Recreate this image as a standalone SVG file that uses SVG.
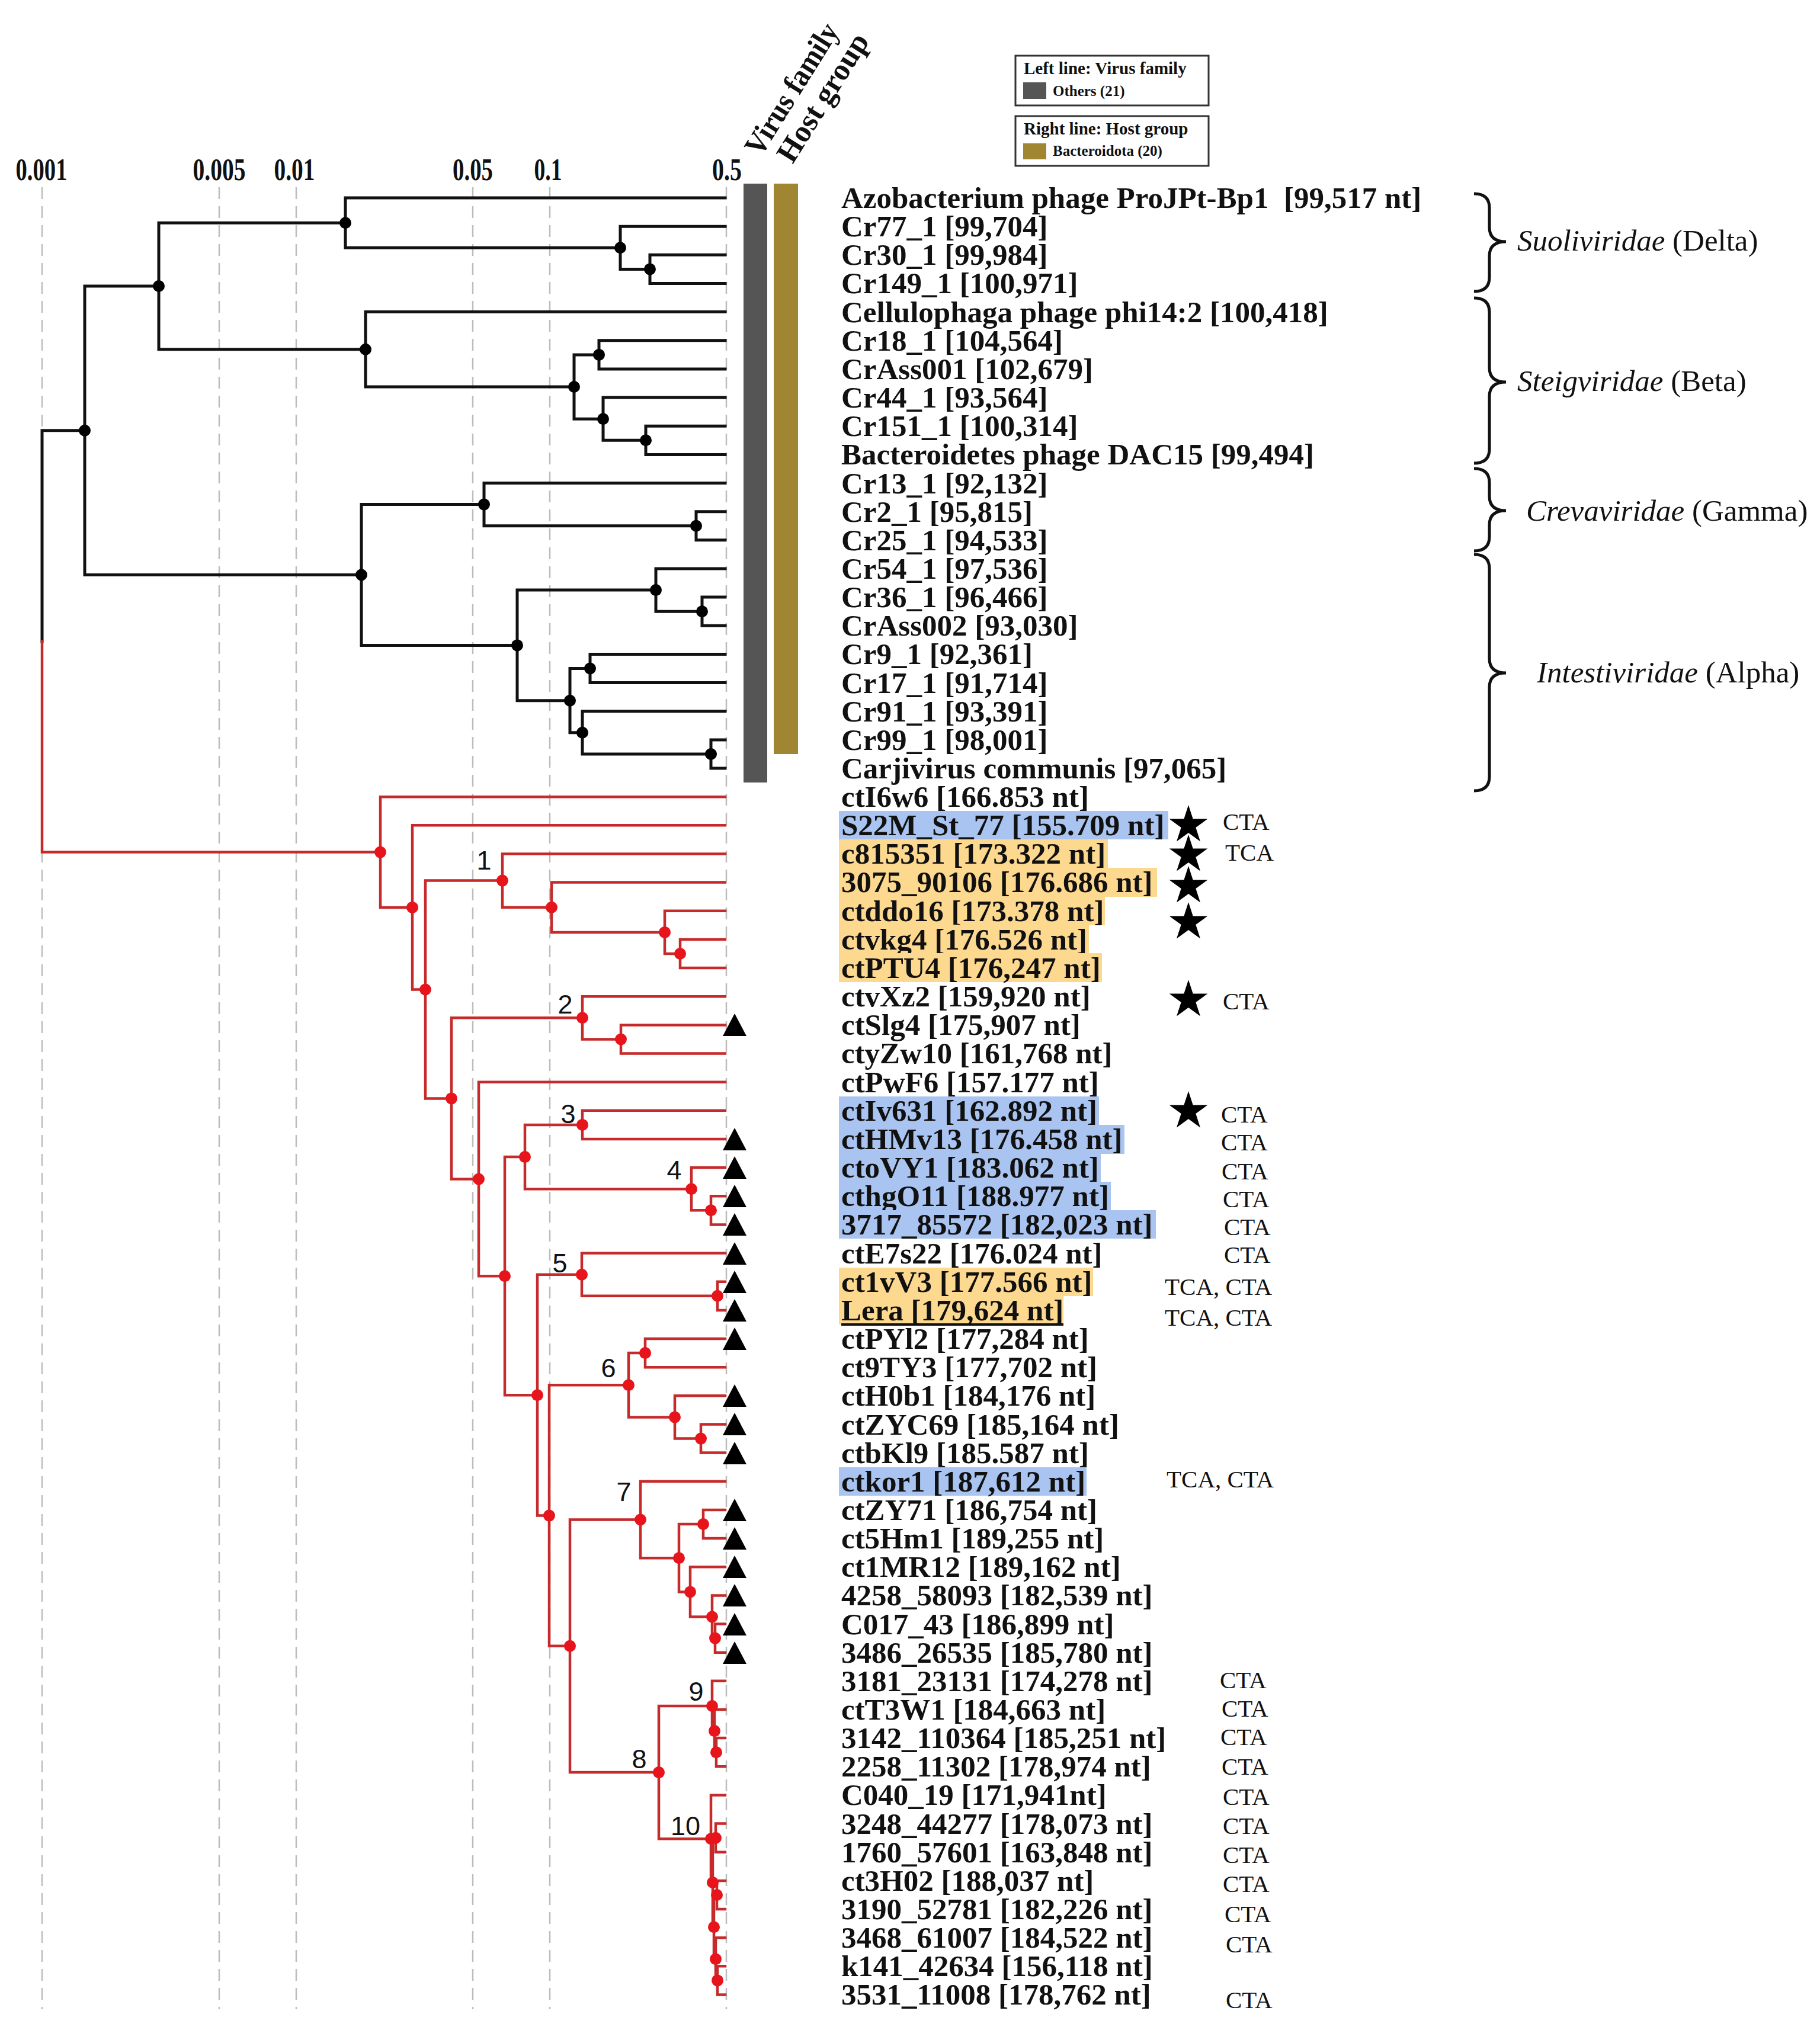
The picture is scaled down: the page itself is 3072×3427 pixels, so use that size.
<svg xmlns="http://www.w3.org/2000/svg" width="3072" height="3427" viewBox="0 0 3072 3427">
<style>
.grid{stroke:#bdbdbd;stroke-width:2.5;stroke-dasharray:20 12;fill:none}
.ax{font-family:"Liberation Serif",serif;font-weight:bold;font-size:52px;fill:#111;text-anchor:middle}
.blk{stroke:#111;stroke-width:5;fill:none;stroke-linecap:square}
.red{stroke:#c62a2a;stroke-width:4.5;fill:none;stroke-linecap:square}
.bd{fill:#000}
.rd{fill:#e8141c}
.lab{font-family:"Liberation Serif",serif;font-weight:bold;font-size:51px;fill:#111}
.ann{font-family:"Liberation Serif",serif;font-size:41px;fill:#111}
.num{font-family:"Liberation Sans",Arial,sans-serif;font-size:45px;fill:#111;text-anchor:middle}
.fam{font-family:"Liberation Serif",serif;font-size:51px;fill:#111}
.hdr{font-family:"Liberation Serif",serif;font-weight:bold;font-size:52px;fill:#111}
.lg1{font-family:"Liberation Serif",serif;font-weight:bold;font-size:29px;fill:#111}
.lg2{font-family:"Liberation Serif",serif;font-weight:bold;font-size:25px;fill:#111}
.brace{stroke:#111;stroke-width:5;fill:none}
.hb{fill:#a9c4f0}
.hy{fill:#fdd98f}
</style>
<defs>
<path id="star" d="M0,-34 L7.64,-10.52 L32.34,-10.51 L12.36,4.02 L19.98,27.51 L0,13 L-19.98,27.51 L-12.36,4.02 L-32.34,-10.51 L-7.64,-10.52 Z" fill="#000"/>
<path id="tri" d="M0,-19 L20,19 L-20,19 Z" fill="#000"/>
</defs>
<rect width="3072" height="3427" fill="#fff"/>

<g id="axis">
<line class="grid" x1="71" y1="316" x2="71" y2="3392"/>
<line class="grid" x1="370" y1="316" x2="370" y2="3392"/>
<line class="grid" x1="500" y1="316" x2="500" y2="3392"/>
<line class="grid" x1="798" y1="316" x2="798" y2="3392"/>
<line class="grid" x1="928" y1="316" x2="928" y2="3392"/>
<line class="grid" x1="1226" y1="316" x2="1226" y2="3392"/>
<text class="ax" x="70" y="304" textLength="87" lengthAdjust="spacingAndGlyphs">0.001</text>
<text class="ax" x="370" y="304" textLength="89" lengthAdjust="spacingAndGlyphs">0.005</text>
<text class="ax" x="497" y="304" textLength="69" lengthAdjust="spacingAndGlyphs">0.01</text>
<text class="ax" x="798" y="304" textLength="68" lengthAdjust="spacingAndGlyphs">0.05</text>
<text class="ax" x="925" y="304" textLength="47" lengthAdjust="spacingAndGlyphs">0.1</text>
<text class="ax" x="1227" y="304" textLength="50" lengthAdjust="spacingAndGlyphs">0.5</text>
</g>

<g id="headers">
<text class="hdr" transform="translate(1284,266) rotate(-58)" textLength="252" lengthAdjust="spacingAndGlyphs">Virus family</text>
<text class="hdr" transform="translate(1338,278) rotate(-58)" textLength="246" lengthAdjust="spacingAndGlyphs">Host group</text>
</g>

<g id="legend">
<rect x="1714" y="94" width="326" height="84" fill="#fff" stroke="#333" stroke-width="3"/>
<text class="lg1" x="1728" y="125">Left line: Virus family</text>
<rect x="1727" y="139" width="39" height="28" fill="#555"/>
<text class="lg2" x="1777" y="162">Others (21)</text>
<rect x="1714" y="196" width="326" height="84" fill="#fff" stroke="#333" stroke-width="3"/>
<text class="lg1" x="1728" y="227">Right line: Host group</text>
<rect x="1727" y="242" width="39" height="27" fill="#a08532"/>
<text class="lg2" x="1777" y="263">Bacteroidota (20)</text>
</g>

<g id="annotation-bars">
<rect id="bar-virus-family" x="1255" y="310" width="40" height="1011" fill="#555"/>
<rect id="bar-host-group" x="1306" y="310" width="41" height="963" fill="#a08532"/>
</g>

<g id="connectors">
<path class="blk" d="M143 726.8 H71 V1082.7"/>
<path class="red" d="M71 1082.7 V1438.6 H642"/>
<path class="blk" d="M268 483 H143 V970.5 H610"/>
<path class="blk" d="M583 376.2 H268 V589.8 H617"/>
<path class="blk" d="M1224 334 H583 V418.3 H1047"/>
<path class="blk" d="M1224 382.2 H1047 V454.4 H1097"/>
<path class="blk" d="M1224 430.3 H1097 V478.5 H1224"/>
<path class="blk" d="M1224 526.6 H617 V653 H969"/>
<path class="blk" d="M1011 598.9 H969 V707.2 H1018"/>
<path class="blk" d="M1224 574.8 H1011 V622.9 H1224"/>
<path class="blk" d="M1224 671.1 H1018 V743.3 H1090"/>
<path class="blk" d="M1224 719.2 H1090 V767.4 H1224"/>
<path class="blk" d="M817 851.6 H610 V1089.4 H873"/>
<path class="blk" d="M1224 815.5 H817 V887.8 H1175"/>
<path class="blk" d="M1224 863.7 H1175 V911.8 H1224"/>
<path class="blk" d="M1107 996.1 H873 V1182.7 H962"/>
<path class="blk" d="M1224 960 H1107 V1032.2 H1185"/>
<path class="blk" d="M1224 1008.1 H1185 V1056.3 H1224"/>
<path class="blk" d="M996 1128.5 H962 V1236.8 H983"/>
<path class="blk" d="M1224 1104.4 H996 V1152.6 H1224"/>
<path class="blk" d="M1224 1200.7 H983 V1273 H1200"/>
<path class="blk" d="M1224 1248.9 H1200 V1297 H1224"/>

<path class="red" d="M1224 1345.2 H642 V1531.9 H696"/>
<path class="red" d="M1224 1393.3 H696 V1670.5 H718"/>
<path class="red" d="M848 1486.6 H718 V1854.4 H762"/>
<path class="red" d="M1224 1441.5 H848 V1531.8 H931"/>
<path class="red" d="M1224 1489.6 H931 V1573.9 H1122"/>
<path class="red" d="M1224 1537.8 H1122 V1610 H1148"/>
<path class="red" d="M1224 1585.9 H1148 V1634.1 H1224"/>
<path class="red" d="M983 1718.3 H762 V1990.5 H808"/>
<path class="red" d="M1224 1682.2 H983 V1754.5 H1048"/>
<path class="red" d="M1224 1730.4 H1048 V1778.5 H1224"/>
<path class="red" d="M1224 1826.7 H808 V2154.2 H852"/>
<path class="red" d="M886 1953.1 H852 V2355.2 H907"/>
<path class="red" d="M983 1898.9 H886 V2007.2 H1167"/>
<path class="red" d="M1224 1874.8 H983 V1923 H1224"/>
<path class="red" d="M1224 1971.1 H1167 V2043.3 H1200"/>
<path class="red" d="M1224 2019.3 H1200 V2067.4 H1224"/>
<path class="red" d="M982 2151.7 H907 V2558.6 H927"/>
<path class="red" d="M1224 2115.6 H982 V2187.8 H1211"/>
<path class="red" d="M1224 2163.7 H1211 V2211.9 H1224"/>
<path class="red" d="M1061 2338.3 H927 V2778.8 H962"/>
<path class="red" d="M1089 2284.1 H1061 V2392.4 H1139"/>
<path class="red" d="M1224 2260 H1089 V2308.2 H1224"/>
<path class="red" d="M1224 2356.3 H1139 V2428.6 H1183"/>
<path class="red" d="M1224 2404.5 H1183 V2452.6 H1224"/>
<path class="red" d="M1081 2565.5 H962 V2992.1 H1112"/>
<path class="red" d="M1224 2500.8 H1081 V2630.2 H1146"/>
<path class="red" d="M1187 2573 H1146 V2687.4 H1165"/>
<path class="red" d="M1224 2548.9 H1187 V2597.1 H1224"/>
<path class="red" d="M1224 2645.2 H1165 V2729.5 H1202"/>
<path class="red" d="M1224 2693.4 H1202 V2765.6 H1207"/>
<path class="red" d="M1224 2741.5 H1207 V2789.7 H1224"/>
<path class="red" d="M1202 2880 H1112 V3104.2 H1200"/>
<path class="red" d="M1224 2837.8 H1202 V2922.1 H1206"/>
<path class="red" d="M1224 2886 H1206 V2958.2 H1209"/>
<path class="red" d="M1224 2934.1 H1209 V2982.3 H1224"/>
<path class="red" d="M1224 3030.4 H1200 V3178 H1203"/>
<path class="red" d="M1208 3102.7 H1203 V3253.2 H1205"/>
<path class="red" d="M1224 3078.6 H1208 V3126.7 H1224"/>
<path class="red" d="M1210 3199 H1205 V3307.3 H1208"/>
<path class="red" d="M1224 3174.9 H1210 V3223 H1224"/>
<path class="red" d="M1224 3271.2 H1208 V3343.4 H1211"/>
<path class="red" d="M1224 3319.3 H1211 V3367.5 H1224"/>
</g>

<g id="internal-nodes">
<circle id="nA" class="bd" cx="143" cy="726.8" r="10"/>
<circle id="nB" class="bd" cx="268" cy="483" r="10"/>
<circle id="nC" class="bd" cx="583" cy="376.2" r="10"/>
<circle id="nD" class="bd" cx="1047" cy="418.3" r="10"/>
<circle id="nE" class="bd" cx="1097" cy="454.4" r="10"/>
<circle id="nF" class="bd" cx="617" cy="589.8" r="10"/>
<circle id="nG" class="bd" cx="969" cy="653" r="10"/>
<circle id="nH" class="bd" cx="1011" cy="598.9" r="10"/>
<circle id="nI" class="bd" cx="1018" cy="707.2" r="10"/>
<circle id="nJ" class="bd" cx="1090" cy="743.3" r="10"/>
<circle id="nK" class="bd" cx="610" cy="970.5" r="10"/>
<circle id="nL" class="bd" cx="817" cy="851.6" r="10"/>
<circle id="nM" class="bd" cx="1175" cy="887.8" r="10"/>
<circle id="nN" class="bd" cx="873" cy="1089.4" r="10"/>
<circle id="nO" class="bd" cx="1107" cy="996.1" r="10"/>
<circle id="nP" class="bd" cx="1185" cy="1032.2" r="10"/>
<circle id="nQ" class="bd" cx="962" cy="1182.7" r="10"/>
<circle id="nR" class="bd" cx="996" cy="1128.5" r="10"/>
<circle id="nS" class="bd" cx="983" cy="1236.8" r="10"/>
<circle id="nT" class="bd" cx="1200" cy="1273" r="10"/>

<circle id="rRoot" class="rd" cx="642" cy="1438.6" r="10"/>
<circle id="rU" class="rd" cx="696" cy="1531.9" r="10"/>
<circle id="rV" class="rd" cx="718" cy="1670.5" r="10"/>
<circle id="r1" class="rd" cx="848" cy="1486.6" r="10"/>
<circle id="r1b" class="rd" cx="931" cy="1531.8" r="10"/>
<circle id="r1c" class="rd" cx="1122" cy="1573.9" r="10"/>
<circle id="r1d" class="rd" cx="1148" cy="1610" r="10"/>
<circle id="rX" class="rd" cx="762" cy="1854.4" r="10"/>
<circle id="r2" class="rd" cx="983" cy="1718.3" r="10"/>
<circle id="r2b" class="rd" cx="1048" cy="1754.5" r="10"/>
<circle id="rY" class="rd" cx="808" cy="1990.5" r="10"/>
<circle id="rY2" class="rd" cx="852" cy="2154.2" r="10"/>
<circle id="r34" class="rd" cx="886" cy="1953.1" r="10"/>
<circle id="r3" class="rd" cx="983" cy="1898.9" r="10"/>
<circle id="r4" class="rd" cx="1167" cy="2007.2" r="10"/>
<circle id="r4b" class="rd" cx="1200" cy="2043.3" r="10"/>
<circle id="r5p" class="rd" cx="907" cy="2355.2" r="10"/>
<circle id="r5" class="rd" cx="982" cy="2151.7" r="10"/>
<circle id="r5b" class="rd" cx="1211" cy="2187.8" r="10"/>
<circle id="r6p" class="rd" cx="927" cy="2558.6" r="10"/>
<circle id="r6" class="rd" cx="1061" cy="2338.3" r="10"/>
<circle id="r6a" class="rd" cx="1089" cy="2284.1" r="10"/>
<circle id="r6b" class="rd" cx="1139" cy="2392.4" r="10"/>
<circle id="r6c" class="rd" cx="1183" cy="2428.6" r="10"/>
<circle id="r7p" class="rd" cx="962" cy="2778.8" r="10"/>
<circle id="r7" class="rd" cx="1081" cy="2565.5" r="10"/>
<circle id="r7b" class="rd" cx="1146" cy="2630.2" r="10"/>
<circle id="r7c" class="rd" cx="1187" cy="2573" r="10"/>
<circle id="r7d" class="rd" cx="1165" cy="2687.4" r="10"/>
<circle id="r7e" class="rd" cx="1202" cy="2729.5" r="10"/>
<circle id="r7f" class="rd" cx="1207" cy="2765.6" r="10"/>
<circle id="r8" class="rd" cx="1112" cy="2992.1" r="10"/>
<circle id="r9" class="rd" cx="1202" cy="2880" r="10"/>
<circle id="r9b" class="rd" cx="1206" cy="2922.1" r="10"/>
<circle id="r9c" class="rd" cx="1209" cy="2958.2" r="10"/>
<circle id="r10" class="rd" cx="1200" cy="3104.2" r="10"/>
<circle id="r10b" class="rd" cx="1203" cy="3178" r="10"/>
<circle id="r10c" class="rd" cx="1208" cy="3102.7" r="10"/>
<circle id="r10d" class="rd" cx="1205" cy="3253.2" r="10"/>
<circle id="r10e" class="rd" cx="1210" cy="3199" r="10"/>
<circle id="r10f" class="rd" cx="1208" cy="3307.3" r="10"/>
<circle id="r10g" class="rd" cx="1211" cy="3343.4" r="10"/>
</g>

<g id="clade-numbers">
<text class="num" x="817" y="1468">1</text>
<text class="num" x="954" y="1711">2</text>
<text class="num" x="959" y="1896">3</text>
<text class="num" x="1138" y="1991">4</text>
<text class="num" x="945" y="2148">5</text>
<text class="num" x="1027" y="2325">6</text>
<text class="num" x="1053" y="2534">7</text>
<text class="num" x="1079" y="2985">8</text>
<text class="num" x="1175" y="2871">9</text>
<text class="num" x="1157" y="3098">10</text>
</g>

<g id="leaves-reference">
<g id="leaf-0"><text class="lab" x="1420" y="351" xml:space="preserve">Azobacterium phage ProJPt-Bp1  [99,517 nt]</text></g>
<g id="leaf-1"><text class="lab" x="1420" y="399">Cr77_1 [99,704]</text></g>
<g id="leaf-2"><text class="lab" x="1420" y="447">Cr30_1 [99,984]</text></g>
<g id="leaf-3"><text class="lab" x="1420" y="495">Cr149_1 [100,971]</text></g>
<g id="leaf-4"><text class="lab" x="1420" y="544">Cellulophaga phage phi14:2 [100,418]</text></g>
<g id="leaf-5"><text class="lab" x="1420" y="592">Cr18_1 [104,564]</text></g>
<g id="leaf-6"><text class="lab" x="1420" y="640">CrAss001 [102,679]</text></g>
<g id="leaf-7"><text class="lab" x="1420" y="688">Cr44_1 [93,564]</text></g>
<g id="leaf-8"><text class="lab" x="1420" y="736">Cr151_1 [100,314]</text></g>
<g id="leaf-9"><text class="lab" x="1420" y="784">Bacteroidetes phage DAC15 [99,494]</text></g>
<g id="leaf-10"><text class="lab" x="1420" y="833">Cr13_1 [92,132]</text></g>
<g id="leaf-11"><text class="lab" x="1420" y="881">Cr2_1 [95,815]</text></g>
<g id="leaf-12"><text class="lab" x="1420" y="929">Cr25_1 [94,533]</text></g>
<g id="leaf-13"><text class="lab" x="1420" y="977">Cr54_1 [97,536]</text></g>
<g id="leaf-14"><text class="lab" x="1420" y="1025">Cr36_1 [96,466]</text></g>
<g id="leaf-15"><text class="lab" x="1420" y="1073">CrAss002 [93,030]</text></g>
<g id="leaf-16"><text class="lab" x="1420" y="1121">Cr9_1 [92,361]</text></g>
<g id="leaf-17"><text class="lab" x="1420" y="1170">Cr17_1 [91,714]</text></g>
<g id="leaf-18"><text class="lab" x="1420" y="1218">Cr91_1 [93,391]</text></g>
<g id="leaf-19"><text class="lab" x="1420" y="1266">Cr99_1 [98,001]</text></g>
<g id="leaf-20"><text class="lab" x="1420" y="1314">Carjivirus communis [97,065]</text></g>
</g>

<g id="families">
<path class="brace" d="M2488 327 Q2514 327 2514 351 L2514 384 Q2514 408 2542 408 Q2514 408 2514 432 L2514 468 Q2514 492 2488 492"/>
<text class="fam" x="2561" y="423"><tspan font-style="italic">Suoliviridae</tspan> (Delta)</text>
<path class="brace" d="M2488 503 Q2514 503 2514 527 L2514 621 Q2514 645 2542 645 Q2514 645 2514 669 L2514 758 Q2514 782 2488 782"/>
<text class="fam" x="2561" y="660"><tspan font-style="italic">Steigviridae</tspan> (Beta)</text>
<path class="brace" d="M2488 791 Q2514 791 2514 815 L2514 838 Q2514 862 2542 862 Q2514 862 2514 886 L2514 906 Q2514 930 2488 930"/>
<text class="fam" x="2576" y="879"><tspan font-style="italic">Crevaviridae</tspan> (Gamma)</text>
<path class="brace" d="M2488 936 Q2514 936 2514 960 L2514 1112 Q2514 1136 2542 1136 Q2514 1136 2514 1160 L2514 1311 Q2514 1335 2488 1335"/>
<text class="fam" x="2594" y="1152"><tspan font-style="italic">Intestiviridae</tspan> (Alpha)</text>
</g>

<g id="leaves-novel">
<g id="leaf-21"><text class="lab" x="1420" y="1362">ctI6w6 [166.853 nt]</text></g>
<g id="leaf-22"><rect class="hb" x="1416" y="1369" width="556" height="48"/><text class="lab" x="1420" y="1410">S22M_St_77 [155.709 nt]</text><use href="#star" x="2006" y="1393"/><text class="ann" x="2064" y="1401">CTA</text></g>
<g id="leaf-23"><rect class="hy" x="1416" y="1417" width="454" height="49"/><text class="lab" x="1420" y="1458">c815351 [173.322 nt]</text><use href="#star" x="2006" y="1443"/><text class="ann" x="2068" y="1453">TCA</text></g>
<g id="leaf-24"><rect class="hy" x="1416" y="1465" width="537" height="49"/><text class="lab" x="1420" y="1506">3075_90106 [176.686 nt]</text><use href="#star" x="2006" y="1496"/></g>
<g id="leaf-25"><rect class="hy" x="1416" y="1513" width="449" height="49"/><text class="lab" x="1420" y="1555">ctddo16 [173.378 nt]</text><use href="#star" x="2006" y="1557"/></g>
<g id="leaf-26"><rect class="hy" x="1416" y="1561" width="422" height="49"/><text class="lab" x="1420" y="1603">ctvkg4 [176.526 nt]</text></g>
<g id="leaf-27"><rect class="hy" x="1416" y="1609" width="444" height="49"/><text class="lab" x="1420" y="1651">ctPTU4 [176,247 nt]</text></g>
<g id="leaf-28"><text class="lab" x="1420" y="1699">ctvXz2 [159,920 nt]</text><use href="#star" x="2006" y="1688"/><text class="ann" x="2064" y="1704">CTA</text></g>
<g id="leaf-29"><text class="lab" x="1420" y="1747">ctSlg4 [175,907 nt]</text><use href="#tri" x="1240" y="1730"/></g>
<g id="leaf-30"><text class="lab" x="1420" y="1795">ctyZw10 [161,768 nt]</text></g>
<g id="leaf-31"><text class="lab" x="1420" y="1844">ctPwF6 [157.177 nt]</text></g>
<g id="leaf-32"><rect class="hb" x="1416" y="1851" width="439" height="49"/><text class="lab" x="1420" y="1892">ctIv631 [162.892 nt]</text><use href="#star" x="2006" y="1876"/><text class="ann" x="2061" y="1895">CTA</text></g>
<g id="leaf-33"><rect class="hb" x="1416" y="1899" width="482" height="49"/><text class="lab" x="1420" y="1940">ctHMv13 [176.458 nt]</text><use href="#tri" x="1240" y="1923"/><text class="ann" x="2061" y="1942">CTA</text></g>
<g id="leaf-34"><rect class="hb" x="1416" y="1947" width="442" height="49"/><text class="lab" x="1420" y="1988">ctoVY1 [183.062 nt]</text><use href="#tri" x="1240" y="1971"/><text class="ann" x="2062" y="1991">CTA</text></g>
<g id="leaf-35"><rect class="hb" x="1416" y="1995" width="459" height="49"/><text class="lab" x="1420" y="2036">cthgO11 [188.977 nt]</text><use href="#tri" x="1240" y="2019"/><text class="ann" x="2064" y="2038">CTA</text></g>
<g id="leaf-36"><rect class="hb" x="1416" y="2043" width="535" height="48"/><text class="lab" x="1420" y="2084">3717_85572 [182,023 nt]</text><use href="#tri" x="1240" y="2067"/><text class="ann" x="2066" y="2085">CTA</text></g>
<g id="leaf-37"><text class="lab" x="1420" y="2133">ctE7s22 [176.024 nt]</text><use href="#tri" x="1240" y="2116"/><text class="ann" x="2066" y="2132">CTA</text></g>
<g id="leaf-38"><rect class="hy" x="1416" y="2140" width="429" height="48"/><text class="lab" x="1420" y="2181">ct1vV3 [177.566 nt]</text><use href="#tri" x="1240" y="2164"/><text class="ann" x="1966" y="2186">TCA, CTA</text></g>
<g id="leaf-39"><rect class="hy" x="1416" y="2188" width="379" height="48"/><text class="lab" x="1420" y="2229">Lera [179,624 nt]</text><rect x="1420" y="2234" width="375" height="4" fill="#111"/><use href="#tri" x="1240" y="2212"/><text class="ann" x="1966" y="2238">TCA, CTA</text></g>
<g id="leaf-40"><text class="lab" x="1420" y="2277">ctPYl2 [177,284 nt]</text><use href="#tri" x="1240" y="2260"/></g>
<g id="leaf-41"><text class="lab" x="1420" y="2325">ct9TY3 [177,702 nt]</text></g>
<g id="leaf-42"><text class="lab" x="1420" y="2373">ctH0b1 [184,176 nt]</text><use href="#tri" x="1240" y="2356"/></g>
<g id="leaf-43"><text class="lab" x="1420" y="2422">ctZYC69 [185,164 nt]</text><use href="#tri" x="1240" y="2404"/></g>
<g id="leaf-44"><text class="lab" x="1420" y="2470">ctbKl9 [185.587 nt]</text><use href="#tri" x="1240" y="2453"/></g>
<g id="leaf-45"><rect class="hb" x="1416" y="2477" width="418" height="48"/><text class="lab" x="1420" y="2518">ctkor1 [187,612 nt]</text><text class="ann" x="1969" y="2511">TCA, CTA</text></g>
<g id="leaf-46"><text class="lab" x="1420" y="2566">ctZY71 [186,754 nt]</text><use href="#tri" x="1240" y="2549"/></g>
<g id="leaf-47"><text class="lab" x="1420" y="2614">ct5Hm1 [189,255 nt]</text><use href="#tri" x="1240" y="2597"/></g>
<g id="leaf-48"><text class="lab" x="1420" y="2662">ct1MR12 [189,162 nt]</text><use href="#tri" x="1240" y="2645"/></g>
<g id="leaf-49"><text class="lab" x="1420" y="2710">4258_58093 [182,539 nt]</text><use href="#tri" x="1240" y="2693"/></g>
<g id="leaf-50"><text class="lab" x="1420" y="2759">C017_43 [186,899 nt]</text><use href="#tri" x="1240" y="2742"/></g>
<g id="leaf-51"><text class="lab" x="1420" y="2807">3486_26535 [185,780 nt]</text><use href="#tri" x="1240" y="2790"/></g>
<g id="leaf-52"><text class="lab" x="1420" y="2855">3181_23131 [174,278 nt]</text><text class="ann" x="2059" y="2850">CTA</text></g>
<g id="leaf-53"><text class="lab" x="1420" y="2903">ctT3W1 [184,663 nt]</text><text class="ann" x="2062" y="2898">CTA</text></g>
<g id="leaf-54"><text class="lab" x="1420" y="2951">3142_110364 [185,251 nt]</text><text class="ann" x="2060" y="2946">CTA</text></g>
<g id="leaf-55"><text class="lab" x="1420" y="2999">2258_11302 [178,974 nt]</text><text class="ann" x="2062" y="2996">CTA</text></g>
<g id="leaf-56"><text class="lab" x="1420" y="3047">C040_19 [171,941nt]</text><text class="ann" x="2064" y="3047">CTA</text></g>
<g id="leaf-57"><text class="lab" x="1420" y="3096">3248_44277 [178,073 nt]</text><text class="ann" x="2064" y="3096">CTA</text></g>
<g id="leaf-58"><text class="lab" x="1420" y="3144">1760_57601 [163,848 nt]</text><text class="ann" x="2064" y="3145">CTA</text></g>
<g id="leaf-59"><text class="lab" x="1420" y="3192">ct3H02 [188,037 nt]</text><text class="ann" x="2064" y="3194">CTA</text></g>
<g id="leaf-60"><text class="lab" x="1420" y="3240">3190_52781 [182,226 nt]</text><text class="ann" x="2067" y="3245">CTA</text></g>
<g id="leaf-61"><text class="lab" x="1420" y="3288">3468_61007 [184,522 nt]</text><text class="ann" x="2069" y="3296">CTA</text></g>
<g id="leaf-62"><text class="lab" x="1420" y="3336">k141_42634 [156,118 nt]</text></g>
<g id="leaf-63"><text class="lab" x="1420" y="3384">3531_11008 [178,762 nt]</text><text class="ann" x="2069" y="3390">CTA</text></g>
</g>
</svg>
